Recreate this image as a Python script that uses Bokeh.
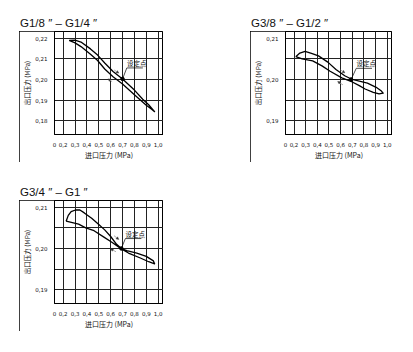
from bokeh.plotting import figure
from bokeh.models import FixedTicker, CustomJSTickFormatter, Arrow, NormalHead, Div, Spacer
from bokeh.layouts import row, column
from bokeh.core.properties import value
from bokeh.embed import file_html
from bokeh.resources import INLINE

# ---------------- data ----------------
TITLES = ["G1/8 \u2033 \u2013 G1/4 \u2033", "G3/8 \u2033 \u2013 G1/2 \u2033", "G3/4 \u2033 \u2013 G1 \u2033"]
X_LABEL = "进口压力 (MPa)"
Y_LABEL = "出口压力 (MPa)"
SET_LABEL = "设定点"
X_TICKS = [0.2, 0.3, 0.4, 0.5, 0.6, 0.7, 0.8, 0.9, 1.0]
Y_TICKS_1 = [0.18, 0.19, 0.20, 0.21, 0.22]
Y_TICKS_23 = [0.19, 0.20, 0.21]
Y_MINOR_23 = [0.195, 0.205]

# panel 1: G1/8" - G1/4"
p1_upper_x = [0.25, 0.30, 0.35, 0.43, 0.49, 0.55, 0.62, 0.70, 0.80, 0.87, 0.92, 0.97]
p1_upper_y = [0.2189, 0.2190, 0.2181, 0.2148, 0.2118, 0.2080, 0.2039, 0.2003, 0.1949, 0.1905, 0.1878, 0.1845]
p1_lower_x = [0.25, 0.30, 0.35, 0.43, 0.49, 0.55, 0.62, 0.70, 0.80, 0.90, 0.945, 0.97]
p1_lower_y = [0.2189, 0.2177, 0.2159, 0.2122, 0.2092, 0.2051, 0.2013, 0.1978, 0.1927, 0.1876, 0.1856, 0.1845]

# panel 2: G3/8" - G1/2"
p2_upper_x = [0.215, 0.25, 0.295, 0.35, 0.41, 0.49, 0.56, 0.635, 0.70, 0.76, 0.83, 0.905, 0.95, 0.965]
p2_upper_y = [0.2055, 0.2064, 0.2068, 0.2063, 0.2057, 0.2042, 0.2024, 0.2009, 0.2000, 0.1996, 0.1991, 0.1981, 0.1972, 0.1967]
p2_lower_x = [0.215, 0.27, 0.36, 0.44, 0.51, 0.61, 0.70, 0.76, 0.81, 0.88, 0.93, 0.965]
p2_lower_y = [0.2055, 0.2050, 0.2045, 0.2033, 0.2020, 0.2004, 0.1994, 0.1985, 0.1977, 0.1969, 0.1965, 0.1967]

# panel 3: G3/4" - G1"
p3_upper_x = [0.225, 0.243, 0.267, 0.304, 0.341, 0.378, 0.44, 0.50, 0.55, 0.60, 0.65, 0.69, 0.736, 0.82, 0.90, 0.96, 0.97]
p3_upper_y = [0.2066, 0.2080, 0.2089, 0.2093, 0.2093, 0.2086, 0.2073, 0.2058, 0.2045, 0.2029, 0.2010, 0.2000, 0.1995, 0.1989, 0.1981, 0.1970, 0.1963]
p3_lower_x = [0.225, 0.33, 0.39, 0.46, 0.54, 0.61, 0.69, 0.75, 0.85, 0.92, 0.97]
p3_lower_y = [0.2066, 0.2059, 0.2050, 0.2043, 0.2028, 0.2015, 0.1999, 0.1989, 0.1977, 0.1968, 0.1963]

SET_POINTS = [(0.70, 0.2003), (0.69, 0.2000), (0.69, 0.2000)]

# annotation placements (data units)
LABEL_POS = [(0.736, 0.2056), (0.734, 0.2027), (0.724, 0.2024)]
ARROWS = [
    [((0.630, 0.2046), (0.668, 0.2031)), ((0.612, 0.1990), (0.578, 0.2003))],
    [((0.600, 0.2023), (0.636, 0.2016)), ((0.620, 0.1987), (0.575, 0.1995))],
    [((0.628, 0.2031), (0.668, 0.2022)), ((0.645, 0.1992), (0.600, 0.1999))],
]

X_RANGE = (0.127, 1.045)
Y_RANGE_1 = (0.17345, 0.2232)
Y_RANGE_23 = (0.1867, 0.2116)

TICK_FONT = "DejaVu Sans"
CJK_FONT = "Noto Sans CJK SC"


def make_panel(width, left, ux, uy, lx, ly, yrange, yticks, yminor, sp, lab, arrows):
    p = figure(width=width, height=131, x_range=X_RANGE, y_range=yrange,
               output_backend="svg", toolbar_location=None,
               min_border_left=left, min_border_right=0, min_border_top=0, min_border_bottom=17,
               background_fill_color="white", border_fill_color="white",
               outline_line_color="black", outline_line_width=1,
               styles={"outline": "1px solid black", "outline-offset": "-1px"})

    p.xaxis.ticker = FixedTicker(ticks=[X_RANGE[0]] + X_TICKS)
    p.xaxis.formatter = CustomJSTickFormatter(
        code='return tick < 0.15 ? "0" : tick.toFixed(1).replace(".", ",");')
    p.yaxis.ticker = FixedTicker(ticks=yticks, minor_ticks=yminor)
    p.yaxis.formatter = CustomJSTickFormatter(code='return tick.toFixed(2).replace(".", ",");')

    for ax, lbl in ((p.xaxis, X_LABEL), (p.yaxis, Y_LABEL)):
        ax.axis_label = lbl
        ax.axis_label_text_font = CJK_FONT
        ax.axis_label_text_font_style = "normal"
        ax.axis_label_text_color = "#111111"
        ax.axis_label_standoff = 0
        ax.major_label_text_font = TICK_FONT
        ax.major_label_text_font_size = "5.5px"
        ax.major_label_text_color = "#111111"
        ax.major_label_standoff = 1
        ax.major_tick_line_color = None
        ax.minor_tick_line_color = None
        ax.axis_line_color = "black"
    p.xaxis.axis_label_text_font_size = "7px"
    p.yaxis.axis_label_text_font_size = "6.5px"

    p.xgrid.grid_line_color = "#222222"
    p.ygrid.grid_line_color = "#222222"
    p.ygrid.minor_grid_line_color = "#222222"
    p.xgrid.grid_line_width = 1
    p.ygrid.grid_line_width = 1

    xs = list(ux) + list(lx[::-1])
    ys = list(uy) + list(ly[::-1])
    p.line(xs, ys, line_color="black", line_width=1.3, line_join="round")

    # set point and its label
    p.line([sp[0], lab[0], lab[0] + 0.135], [sp[1], lab[1], lab[1]], line_color="black", line_width=0.7)
    p.scatter([sp[0]], [sp[1]], size=3.5, color="black")
    p.text(x=[lab[0] + 0.002], y=[lab[1]], text=[SET_LABEL], text_font=value(CJK_FONT),
           text_font_size="6.5px", text_baseline="bottom", text_align="left", text_color="#111111")

    for (s, e) in arrows:
        p.add_layout(Arrow(end=NormalHead(size=2.5, fill_color="#333333", line_color="#333333", line_width=0.5),
                           x_start=s[0], y_start=s[1], x_end=e[0], y_end=e[1],
                           line_color="#999999", line_width=0.8))
    return p


def title_div(t):
    html = ('<div style="padding-top:18px;padding-left:1px;font-family:\'Liberation Sans\',Arial,sans-serif;'
            'font-size:11.5px;line-height:11.5px;white-space:nowrap;color:#111">' + t + '</div>')
    return Div(text=html, width=140, height=31, margin=0)


p1 = make_panel(144, 20, p1_upper_x, p1_upper_y, p1_lower_x, p1_lower_y, Y_RANGE_1, Y_TICKS_1, [],
                SET_POINTS[0], LABEL_POS[0], ARROWS[0])
p2 = make_panel(142, 19, p2_upper_x, p2_upper_y, p2_lower_x, p2_lower_y, Y_RANGE_23, Y_TICKS_23, Y_MINOR_23,
                SET_POINTS[1], LABEL_POS[1], ARROWS[1])
p3 = make_panel(144, 20, p3_upper_x, p3_upper_y, p3_lower_x, p3_lower_y, Y_RANGE_23, Y_TICKS_23, Y_MINOR_23,
                SET_POINTS[2], LABEL_POS[2], ARROWS[2])

top_row = row(Spacer(width=19, height=162, margin=0), column(title_div(TITLES[0]), p1, spacing=0),
              Spacer(width=87, height=162, margin=0), column(title_div(TITLES[1]), p2, spacing=0), spacing=0)
bottom_row = row(Spacer(width=19, height=162, margin=0), column(title_div(TITLES[2]), p3, spacing=0), spacing=0)
layout = column(top_row, Spacer(width=10, height=7, margin=0), bottom_row, spacing=0)

open("out.html", "w").write(file_html(layout, INLINE))
